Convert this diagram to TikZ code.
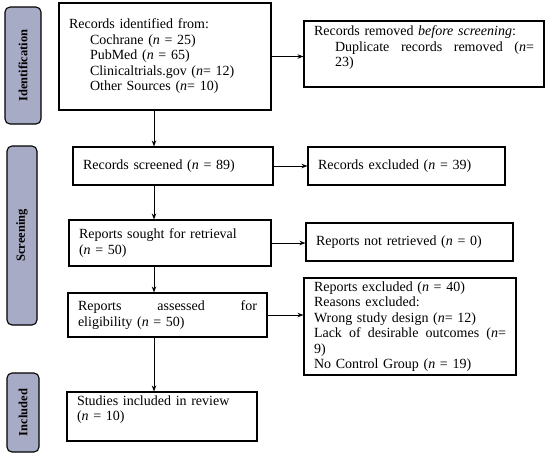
\documentclass[tikz,border=0pt]{standalone}
\usepackage{fontspec}
\setmainfont{Liberation Serif}
\usepackage{tikz}
\usetikzlibrary{arrows.meta}

\definecolor{stagefill}{RGB}{168,171,197}

\tikzset{
    stage/.style={draw, line width=1.1pt, rounded corners=5pt, fill=stagefill, rotate=90, inner sep=0pt, font=\bfseries\fontsize{12.5}{13}\selectfont},
    box/.style={draw, line width=1.1pt, align=left, inner xsep=10pt, inner ysep=2pt, font=\fontsize{14}{15.5}\selectfont},
    arr/.style={-{Stealth[length=6pt,width=4.5pt]}, line width=0.8pt}
}

\begin{document}
\begin{tikzpicture}[x=1pt, y=-1pt]
                \useasboundingbox (0,0) rectangle (550,458);
                % phase labels
                \node [stage, minimum width=117, minimum height=36] (lblident) at (23,65.5) {Identification};
                \node [stage, minimum width=179, minimum height=30] (lblscreen) at (22,235.5) {Screening};
                \node [stage, minimum width=79, minimum height=32] (lblincl) at (23,412.5) {Included};
                % left column
                \node [box, minimum width=212, minimum height=107, text width=192] (ident) at (165,56.5)
                    {Records identified from:\\
                     \hspace*{21pt}Cochrane (\textit{n} = 25)\\
                     \hspace*{21pt}PubMed (\textit{n} = 65)\\
                     \hspace*{21pt}Clinicaltrials.gov (\textit{n}= 12)\\
                     \hspace*{21pt}Other Sources (\textit{n}= 10)};
                \node [box, minimum width=200, minimum height=38, text width=180] (screened) at (173,166)
                    {Records screened (\textit{n} = 89)};
                \node [box, minimum width=202, minimum height=46, text width=182] (sought) at (170,243)
                    {Reports sought for retrieval\\ (\textit{n} = 50)};
                \node [box, minimum width=199, minimum height=44, text width=179] (assessed) at (167.5,315)
                    {Reports\hfill assessed\hfill for\\ eligibility (\textit{n} = 50)};
                \node [box, minimum width=190, minimum height=49, text width=170] (included) at (162,416.5)
                    {Studies included in review\\ (\textit{n} = 10)\par\rule{0pt}{13pt}};
                % right column
                \node [box, minimum width=240, minimum height=66, text width=220] (removed) at (424,54)
                    {Records removed \textit{before screening}:\\
                     \hspace*{21pt}Duplicate\hfill records\hfill removed\hfill (\textit{n}=\\
                     \hspace*{21pt}23)\par\rule{0pt}{12pt}};
                \node [box, minimum width=197, minimum height=38, text width=177] (excluded) at (406.5,166)
                    {Records excluded (\textit{n} = 39)};
                \node [box, minimum width=207, minimum height=38, text width=187] (notretr) at (409.5,242)
                    {Reports not retrieved (\textit{n} = 0)};
                \node [box, minimum width=212, minimum height=97, text width=192] (repexcl) at (410,326.5)
                    {Reports excluded (\textit{n} = 40)\\
                     Reasons excluded:\\
                     Wrong study design (\textit{n}= 12)\\
                     Lack\hfill of\hfill desirable\hfill outcomes\hfill (\textit{n}=\\
                     9)\\
                     No Control Group (\textit{n} = 19)};
                % connectors
                \coordinate (spine) at (154,0);
                \draw [arr] (ident.south -| spine) -- (screened.north -| spine);
                \draw [arr] (screened.south -| spine) -- (sought.north -| spine);
                \draw [arr] (sought.south -| spine) -- (assessed.north -| spine);
                \draw [arr] (assessed.south -| spine) -- (included.north -| spine);
                \draw [arr] (ident.east) -- (ident.east -| removed.west);
                \draw [arr] (screened.east) -- (screened.east -| excluded.west);
                \draw [arr] (sought.east) -- (sought.east -| notretr.west);
                \draw [arr] (assessed.east) -- (assessed.east -| repexcl.west);
\end{tikzpicture}
\end{document}
